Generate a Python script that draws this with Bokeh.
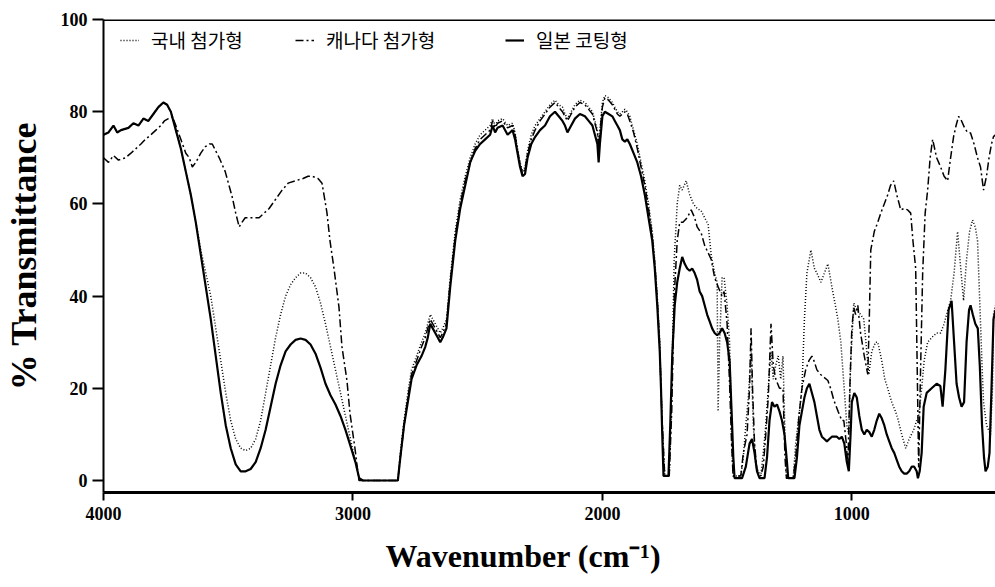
from bokeh.plotting import figure
from bokeh.models import Range1d, FixedTicker, Span, Legend, LegendItem, Title
from bokeh.embed import file_html
from bokeh.resources import INLINE

# ---- data (wavenumber in cm-1, % transmittance) ----
x_ticks = [4000, 3000, 2000, 1000]
y_ticks = [0, 20, 40, 60, 80, 100]
series_names = ["국내 첨가형", "캐나다 첨가형", "일본 코팅형"]
x_title = "Wavenumber (cm\u207b\u00b9)"
y_title = "% Transmittance"

wn_kr = [4000, 3980, 3960, 3945, 3930, 3900, 3880, 3860, 3840, 3820,
         3800, 3780, 3760, 3745, 3730, 3710, 3690, 3670, 3650, 3630,
         3610, 3590, 3570, 3550, 3530, 3510, 3490, 3470, 3450, 3430,
         3410, 3390, 3370, 3350, 3330, 3310, 3290, 3270, 3250, 3230,
         3210, 3190, 3170, 3150, 3130, 3110, 3090, 3070, 3050, 3030,
         3010, 2990, 2975, 2960, 2820, 2810, 2795, 2780, 2765, 2745,
         2725, 2710, 2700, 2690, 2680, 2670, 2660, 2650, 2640, 2625,
         2610, 2590, 2570, 2550, 2530, 2510, 2490, 2470, 2450, 2440,
         2430, 2420, 2400, 2380, 2360, 2350, 2340, 2330, 2320, 2310,
         2300, 2285, 2270, 2250, 2230, 2210, 2190, 2175, 2160, 2150,
         2140, 2125, 2110, 2090, 2070, 2055, 2040, 2030, 2020, 2015,
         2010, 2000, 1990, 1975, 1960, 1950, 1940, 1930, 1920, 1910,
         1900, 1890, 1875, 1860, 1845, 1830, 1815, 1800, 1790, 1780,
         1770, 1765, 1758, 1750, 1732, 1722, 1712, 1700, 1690, 1680,
         1664, 1650, 1635, 1620, 1604, 1590, 1576, 1564, 1550, 1540,
         1536, 1530, 1520, 1512, 1500, 1490, 1482, 1476, 1445, 1435,
         1425, 1415, 1404, 1395, 1385, 1365, 1355, 1345, 1335, 1324,
         1315, 1305, 1295, 1285, 1276, 1268, 1262, 1235, 1225, 1210,
         1200, 1190, 1180, 1164, 1150, 1140, 1124, 1110, 1096, 1080,
         1066, 1056, 1044, 1032, 1020, 1012, 1005, 992, 980, 965,
         952, 940, 932, 920, 905, 896, 880, 868, 856, 840,
         825, 816, 800, 784, 770, 752, 740, 732, 720, 710,
         696, 680, 660, 644, 630, 615, 604, 590, 576, 565,
         552, 540, 528, 516, 505, 496, 488, 478, 472, 460,
         444, 436, 432, 424]
t_kr = [75, 75.5, 77, 75.5, 76, 76.5, 77.5, 77, 78.5, 78,
        79.5, 81, 82, 81.5, 80, 76, 72, 67, 62, 56,
        50, 45, 40, 33, 26, 19, 13, 9, 7, 6.5,
        7, 9, 13, 19, 25, 31, 36, 40, 42.5, 44,
        45, 45, 44, 42, 38.5, 34, 29, 24, 19, 14,
        9, 4, 0.5, 0, 0, 6, 13, 19, 24, 27,
        30, 32, 34, 36, 35, 34, 33, 32, 33, 35,
        44, 54, 61, 66, 70, 73, 75, 76, 77, 78.5,
        77, 78, 78.5, 77, 77.5, 75.5, 72, 69, 67, 68,
        71.5, 75, 77, 78.5, 80, 81.5, 82.5, 81.5, 81, 79.5,
        78.5, 80, 81.5, 82.5, 82, 81, 80, 78, 76, 73,
        76, 82, 83.5, 83, 82, 81, 80, 79.5, 80, 80.5,
        80, 79, 76, 73, 69, 65, 60, 54, 48, 40,
        30, 20, 10, 1, 1, 20, 48, 60, 64, 63,
        65, 62, 60, 59, 58.5, 57, 55.5, 49, 45, 43,
        15, 30, 44, 44, 38, 30, 10, 1, 1, 5,
        12, 18, 28, 12, 3, 1, 6, 12, 20, 28,
        22, 25, 27, 22, 27, 10, 0.5, 0.5, 8, 15,
        20, 35, 45, 50, 46, 45, 43, 45, 47, 42,
        38, 35, 30, 21, 12, 10, 25, 38.5, 37, 36,
        35, 28, 23, 28, 30, 30, 26, 22, 20, 17,
        15, 13.5, 10, 7, 9, 11, 13, 14, 20, 26,
        30, 31, 32, 32, 34, 37, 39, 45, 54, 47,
        39, 48, 54, 56.5, 55, 52, 40, 25, 17, 12,
        10, 20, 36, 38]

wn_ca = [4000, 3980, 3960, 3940, 3912, 3890, 3870, 3850, 3832, 3810,
         3790, 3770, 3756, 3740, 3724, 3710, 3690, 3670, 3656, 3644,
         3630, 3610, 3592, 3575, 3564, 3550, 3536, 3512, 3484, 3470,
         3456, 3445, 3432, 3410, 3390, 3376, 3356, 3336, 3310, 3284,
         3260, 3232, 3200, 3180, 3164, 3140, 3124, 3110, 3104, 3092,
         3076, 3056, 3044, 3024, 3012, 2992, 2976, 2820, 2810, 2795,
         2780, 2765, 2745, 2725, 2710, 2700, 2690, 2680, 2670, 2660,
         2650, 2640, 2625, 2610, 2590, 2570, 2550, 2530, 2510, 2490,
         2470, 2450, 2440, 2430, 2420, 2400, 2380, 2360, 2350, 2340,
         2330, 2320, 2310, 2300, 2285, 2270, 2250, 2230, 2210, 2190,
         2175, 2160, 2150, 2140, 2125, 2110, 2090, 2070, 2055, 2040,
         2030, 2020, 2015, 2010, 2000, 1990, 1975, 1960, 1950, 1940,
         1930, 1920, 1910, 1900, 1890, 1875, 1860, 1845, 1830, 1815,
         1800, 1790, 1780, 1770, 1762, 1750, 1732, 1722, 1712, 1700,
         1690, 1677, 1660, 1644, 1630, 1620, 1604, 1590, 1564, 1550,
         1536, 1520, 1512, 1500, 1490, 1482, 1476, 1445, 1435, 1420,
         1410, 1404, 1398, 1390, 1380, 1365, 1355, 1345, 1335, 1324,
         1315, 1305, 1290, 1276, 1268, 1262, 1235, 1225, 1212, 1200,
         1185, 1172, 1160, 1152, 1140, 1125, 1112, 1096, 1085, 1072,
         1055, 1040, 1032, 1022, 1016, 1008, 1000, 992, 985, 976,
         965, 950, 936, 930, 924, 910, 896, 884, 870, 856,
         845, 832, 820, 810, 804, 790, 776, 764, 755, 744,
         738, 732, 726, 716, 706, 696, 686, 676, 660, 644,
         630, 616, 604, 592, 582, 572, 560, 548, 536, 524,
         510, 496, 484, 472, 460, 450, 440, 432, 424]
t_ca = [70, 69, 70.5, 69.5, 70, 71, 72, 73, 74, 75,
        76, 77, 78, 78.5, 79, 77, 74, 71, 70, 68,
        69, 71, 72.4, 73, 73, 71.5, 70, 67, 61.5, 58,
        55, 56, 57, 57, 57, 57, 58, 59, 61, 63,
        64.5, 65, 65.5, 66, 66, 65.5, 64.5, 60, 58, 52,
        46, 37.6, 29, 21.7, 14.6, 7, 0, 0, 5, 12,
        18, 23, 26, 29, 31, 33, 35, 34, 33, 32,
        31, 32, 34, 43, 53, 60, 65, 69, 72, 74,
        75, 76, 78, 76.5, 77.5, 78, 76.5, 77, 75, 71.5,
        68.5, 66.5, 67.5, 71, 74, 76, 78, 79.5, 81, 82,
        81, 80, 79, 78, 79.5, 81, 82, 81.5, 80.5, 79.5,
        77.5, 75.5, 72, 75.5, 81, 83, 82.5, 81.5, 80.5, 79.5,
        79, 79.5, 80, 79.5, 78, 75.5, 72, 68, 64, 59,
        53, 47, 39, 29, 15, 1, 1, 15, 40, 52,
        56, 56, 57, 58.7, 57, 55, 53.7, 51, 48, 44,
        42, 40, 41, 34, 21, 8, 1, 1, 6, 10,
        20, 33, 20, 8, 2, 1, 3, 10, 18, 34,
        25, 22, 20, 20, 5, 0.5, 0.5, 5, 14, 20,
        24, 26, 27, 26, 24, 23, 22.4, 21.7, 20, 17.4,
        15, 13, 13, 8, 3, 20, 33, 37.6, 36, 38,
        32, 27, 23, 35, 50, 54, 56, 58, 60, 62,
        64, 65, 62, 60, 58.7, 59, 58.7, 58, 52, 46,
        25, 2.8, 20, 45, 58, 63, 70, 74, 70, 68,
        66, 65, 70, 74.6, 77, 79, 78, 76.5, 75.5, 75.4,
        73, 70, 68, 63, 66, 70, 73, 74.6, 75]

wn_jp = [4000, 3980, 3960, 3945, 3930, 3900, 3880, 3860, 3840, 3820,
         3800, 3780, 3760, 3745, 3730, 3710, 3690, 3670, 3650, 3630,
         3610, 3590, 3570, 3550, 3530, 3510, 3490, 3470, 3450, 3430,
         3410, 3390, 3370, 3350, 3330, 3310, 3290, 3270, 3250, 3230,
         3210, 3190, 3170, 3150, 3130, 3110, 3090, 3070, 3050, 3030,
         3010, 2990, 2975, 2960, 2820, 2810, 2795, 2780, 2765, 2745,
         2725, 2710, 2700, 2690, 2680, 2670, 2660, 2650, 2640, 2625,
         2610, 2590, 2570, 2550, 2530, 2510, 2490, 2470, 2450, 2440,
         2430, 2420, 2400, 2380, 2360, 2350, 2340, 2330, 2320, 2310,
         2300, 2285, 2270, 2250, 2230, 2210, 2190, 2175, 2160, 2150,
         2140, 2125, 2110, 2090, 2070, 2055, 2040, 2030, 2020, 2015,
         2010, 2000, 1990, 1975, 1960, 1950, 1940, 1930, 1920, 1910,
         1900, 1890, 1875, 1860, 1845, 1830, 1815, 1800, 1790, 1780,
         1770, 1765, 1760, 1755, 1735, 1728, 1720, 1710, 1700, 1690,
         1680, 1670, 1660, 1650, 1640, 1630, 1620, 1610, 1600, 1590,
         1580, 1570, 1560, 1550, 1540, 1530, 1520, 1510, 1500, 1490,
         1482, 1475, 1470, 1440, 1425, 1410, 1400, 1390, 1380, 1370,
         1350, 1340, 1330, 1320, 1310, 1300, 1290, 1280, 1270, 1260,
         1255, 1230, 1220, 1210, 1200, 1190, 1180, 1170, 1160, 1150,
         1140, 1130, 1120, 1110, 1100, 1090, 1080, 1060, 1050, 1040,
         1030, 1020, 1012, 1005, 1000, 990, 980, 970, 960, 950,
         940, 930, 920, 910, 900, 890, 880, 870, 860, 850,
         840, 830, 820, 810, 800, 790, 780, 770, 760, 750,
         740, 735, 728, 720, 712, 700, 680, 660, 645, 636,
         625, 612, 600, 590, 580, 570, 560, 550, 540, 530,
         524, 515, 505, 495, 487, 478, 470, 464, 455, 448,
         440, 432, 424]
t_jp = [75, 75.5, 77, 75.5, 76, 76.5, 77.5, 77, 78.5, 78,
        79.5, 81, 82, 81.5, 80, 76, 72, 67, 62, 56,
        49, 42, 35, 27, 19, 12, 7, 3.5, 2, 2,
        2.5, 4, 7, 11, 16, 21, 25, 28, 29.5, 30.5,
        30.8, 30.5, 29.5, 27.5, 24.5, 21, 18.5, 16.5, 14, 11,
        7.5, 4, 0.5, 0, 0, 5, 12, 17, 22, 25,
        27, 29, 31, 34, 33, 32, 31, 30, 31, 33,
        42, 52, 59, 64, 69, 71.5, 73, 74, 75, 77,
        75.5, 76.5, 77, 75, 76, 74, 71, 68, 66, 66.5,
        70, 73, 74.5, 76, 77, 79, 80, 79, 78, 77,
        75.5, 77, 78.5, 79.5, 79, 78, 77, 75, 73, 69,
        73, 79, 80, 79.5, 79, 78, 77, 76, 74, 73.5,
        74, 73, 71, 69, 66, 62, 57, 52, 46, 38,
        28, 20, 10, 1, 1, 12, 27, 38, 43, 46,
        48.5, 47, 46, 45.5, 46, 45, 43.5, 41, 40, 38,
        36, 34.5, 33, 32, 31.5, 32, 33, 32, 30, 26,
        15, 5, 0.5, 0.5, 3, 8, 9, 6, 2, 0.5,
        0.5, 5, 13, 17, 16, 16.5, 15, 13, 10, 4,
        0.5, 0.5, 5, 12, 15, 18, 20, 21, 19, 17,
        14, 11, 9.5, 9, 8.5, 9, 9.5, 9.5, 9, 9.5,
        8, 4, 2, 10, 17, 19, 18, 14, 11, 10,
        11, 10.5, 9.5, 11, 13, 14.5, 13.5, 12, 10, 8.5,
        7, 6, 4.5, 3, 2, 1.5, 1.5, 2, 3, 3,
        2, 0.5, 2, 6, 16, 19, 20, 21, 20.5, 16,
        24, 37, 39, 30, 21, 18, 16, 17, 30, 37,
        38, 36, 34, 33, 25, 12, 5, 2, 3, 6,
        20, 35, 37]

# ---- figure ----
p = figure(width=995, height=587,
           x_range=Range1d(4000, 424), y_range=Range1d(-2.6, 100),
           output_backend="svg", toolbar_location=None,
           min_border_left=101, min_border_right=0,
           min_border_top=19, min_border_bottom=95)
p.outline_line_color = None
p.xgrid.visible = False
p.ygrid.visible = False
p.background_fill_color = "white"
p.border_fill_color = "white"

r_kr = p.line(wn_kr, t_kr, line_color="black", line_width=1.5, line_dash="1 2")
r_ca = p.line(wn_ca, t_ca, line_color="black", line_width=1.5, line_dash="8 3 2 3")
r_jp = p.line(wn_jp, t_jp, line_color="black", line_width=2.2)

p.add_layout(Span(location=100, dimension="width", line_color="black", line_width=3))

tick_font = "Liberation Serif"
for ax in (p.xaxis[0], p.yaxis[0]):
    ax.minor_tick_line_color = None
    ax.major_tick_in = 0
    ax.major_tick_line_color = "black"
    ax.major_tick_line_width = 2
    ax.axis_line_color = "black"
    ax.major_label_text_font = tick_font
    ax.major_label_text_font_style = "bold"
    ax.major_label_text_font_size = "18px"
    ax.major_label_text_color = "black"

p.xaxis.ticker = FixedTicker(ticks=x_ticks)
p.xaxis.major_tick_out = 8
p.xaxis.axis_line_width = 3
p.xaxis.major_label_standoff = 6

p.yaxis.ticker = FixedTicker(ticks=y_ticks)
p.yaxis.major_tick_out = 11
p.yaxis.axis_line_width = 2
p.yaxis.major_label_standoff = 5
p.yaxis.axis_label = y_title
p.yaxis.axis_label_text_font = tick_font
p.yaxis.axis_label_text_font_style = "bold"
p.yaxis.axis_label_text_font_size = "36px"
p.yaxis.axis_label_text_color = "black"
p.yaxis.axis_label_standoff = 14

# x-axis title sits a little left of centre in the reference
p.add_layout(Title(text=x_title, align="left", offset=282, standoff=26,
                   text_font=tick_font, text_font_style="bold",
                   text_font_size="32px", text_color="black"), "below")

legend_renderers = [r_kr, r_ca, r_jp]
legend_x = [17, 192, 402]
for name, rend, lx in zip(series_names, legend_renderers, legend_x):
    lg = Legend(items=[LegendItem(label=name, renderers=[rend])],
                location=(lx, 439), orientation="horizontal",
                background_fill_alpha=0, border_line_color=None,
                padding=0, margin=0, spacing=0, label_standoff=12,
                glyph_width=19, glyph_height=20, label_height=20,
                label_text_font="Noto Sans CJK KR", label_text_font_size="19px",
                label_text_color="black")
    p.add_layout(lg)

open("out.html", "w").write(file_html(p, INLINE))
